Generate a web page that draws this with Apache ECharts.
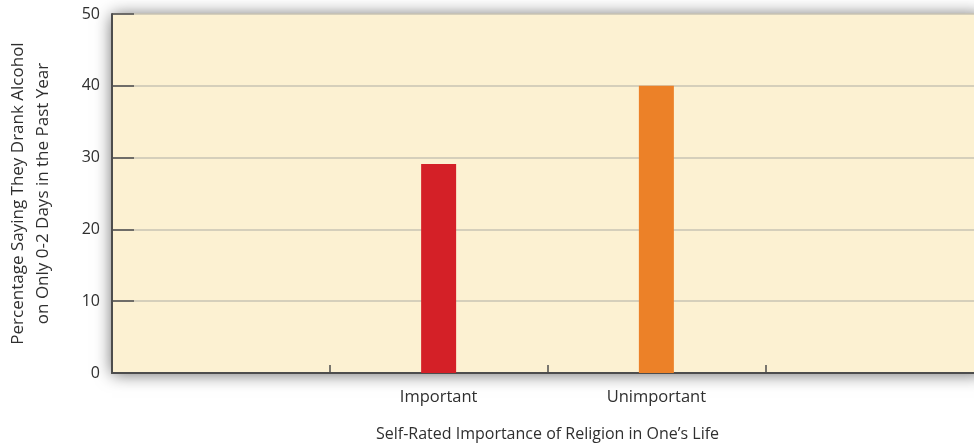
<!DOCTYPE html>
<html>
<head>
<meta charset="utf-8">
<script src="https://cdn.jsdelivr.net/npm/echarts@6/dist/echarts.min.js"></script>
<style>
html,body{margin:0;padding:0;background:#fff;}
#chart{width:974px;height:445px;}
</style>
</head>
<body>
<div id="chart"></div>
<script>
var categories = ['', 'Important', 'Unimportant', ''];
var values = [null, 29.1, 40, null];
var barColors = ['#d42027', '#d42027', '#ec8128', '#ec8128'];
var yTicks = [0, 10, 20, 30, 40, 50];

var FONT = '"Open Sans", "Noto Sans", sans-serif';
var chart = echarts.init(document.getElementById('chart'), null, {renderer: 'canvas'});
chart.setOption({
  animation: false,
  backgroundColor: '#ffffff',
  grid: {
    left: 112, top: 14, bottom: 72, right: -9,
    containLabel: false,
    outerBoundsMode: 'none',
    show: true,
    backgroundColor: '#fcf1d2',
    borderWidth: 0,
    shadowBlur: 16,
    shadowColor: 'rgba(0,0,0,0.6)',
    shadowOffsetY: 1
  },
  xAxis: {
    type: 'category',
    data: categories,
    name: "Self-Rated Importance of Religion in One\u2019s Life",
    nameLocation: 'middle',
    nameGap: 53,
    nameTextStyle: {fontFamily: FONT, fontSize: 16, color: '#2f2f2f'},
    axisLine: {lineStyle: {color: '#4d4d4d', width: 2}},
    axisTick: {show: true, inside: true, length: 8, alignWithLabel: false, lineStyle: {color: '#4d4d4d', width: 1.5}},
    axisLabel: {interval: 0, margin: 16, fontFamily: FONT, fontSize: 16.5, color: '#2f2f2f'},
    splitLine: {show: false}
  },
  yAxis: {
    type: 'value',
    min: yTicks[0],
    max: yTicks[yTicks.length - 1],
    interval: 10,
    name: 'Percentage Saying They Drank Alcohol\non Only 0-2 Days in the Past Year',
    nameLocation: 'middle',
    nameRotate: 90,
    nameGap: 56,
    nameTextStyle: {fontFamily: FONT, fontSize: 17, color: '#2f2f2f', lineHeight: 25},
    axisLine: {show: true, lineStyle: {color: '#4d4d4d', width: 2}},
    axisTick: {show: true, inside: true, length: 22, lineStyle: {color: '#4d4d4d', width: 1.5}},
    axisLabel: {margin: 12, fontFamily: FONT, fontSize: 16, color: '#2f2f2f'},
    splitLine: {show: true, lineStyle: {color: '#c9c3b3', width: 1.5}}
  },
  series: [{
    type: 'bar',
    data: values.map(function (v, i) {
      return {value: v, itemStyle: {color: barColors[i]}};
    }),
    barWidth: 35
  }]
});
</script>
</body>
</html>
